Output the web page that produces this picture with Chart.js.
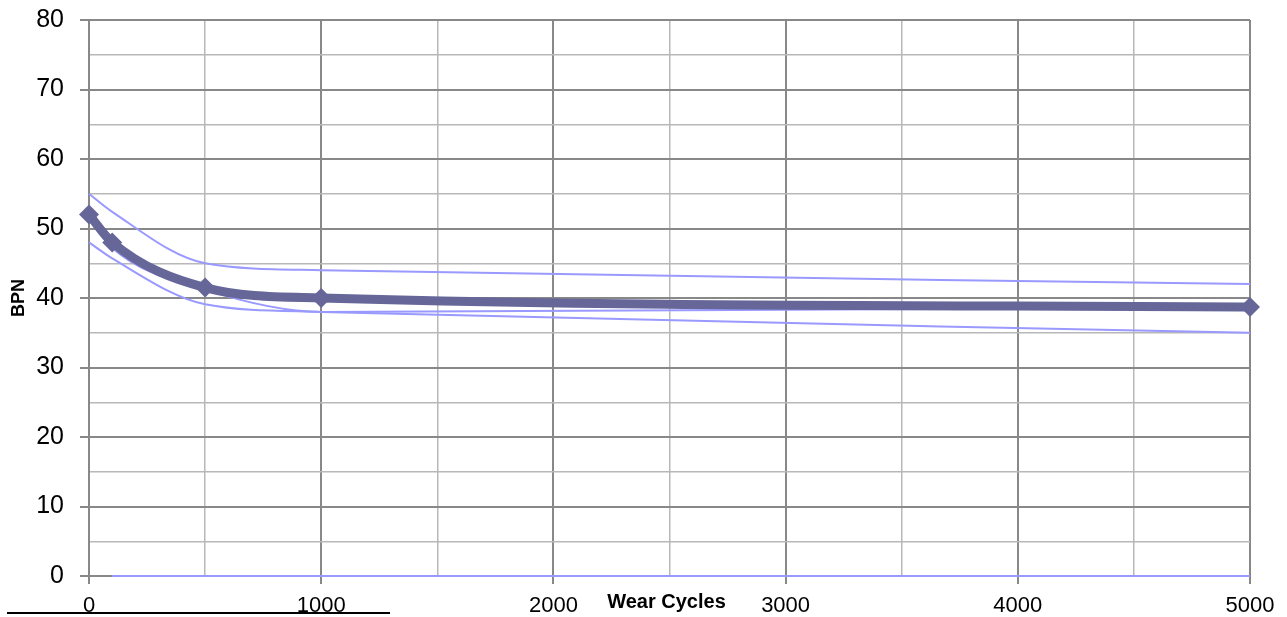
<!DOCTYPE html>
<html>
<head>
<meta charset="utf-8">
<script src="https://cdn.jsdelivr.net/npm/chart.js@4.4.1/dist/chart.umd.min.js"></script>
<style>
  html, body { margin: 0; padding: 0; background: #fff; }
  #wrap { width: 1287px; height: 617px; }
</style>
</head>
<body>
<div id="wrap"><canvas id="bpnChart" width="1287" height="617"></canvas></div>
<script>
// wear cycles where BPN was measured
const cycles = [0, 100, 500, 1000, 5000];
const bpnMean = [52, 48, 41.5, 40, 38.7];
const bpnUpper = [55, 52.4, 45, 44, 42];
const bpnLower = [48, 45.7, 39.1, 38, 35];
const bpnFit = [51.5, 47.2, 41.2, 38, 38.7];
const zeroCycles = [100, 500, 1000, 5000];
const zeroLine = [0, 0, 0, 0];

const xTicks = [0, 1000, 2000, 3000, 4000, 5000];
const yTicks = [0, 10, 20, 30, 40, 50, 60, 70, 80];

const darkLine = '#666699';
const lightLine = '#9999ff';

function toPoints(xs, ys){
    return xs.map((x, i) => ({x: x, y: ys[i]}));
}

function lightSet(xs, ys){
    return {
        data: toPoints(xs, ys),
        borderColor: lightLine,
        borderWidth: 2,
        pointRadius: 0,
        fill: false,
        clip: false,
        cubicInterpolationMode: 'monotone',
        order: 1
    };
}

// stray underline below the first labels
const underline = {
    id: 'underline',
    afterDraw(chart){
        const c = chart.ctx;
        c.save();
        c.strokeStyle = '#000';
        c.lineWidth = 2;
        c.beginPath();
        c.moveTo(7, 613);
        c.lineTo(390, 613);
        c.stroke();
        c.restore();
    }
};

const majorGrid = '#888888';
const minorGrid = '#b8b8b8';

let ctx = document.getElementById('bpnChart').getContext('2d');
let myChart = new Chart(ctx, {
    type: 'line',
    data: {
        datasets: [
            {
                data: toPoints(cycles, bpnMean),
                borderColor: darkLine,
                backgroundColor: darkLine,
                borderWidth: 9,
                pointStyle: 'rectRot',
                pointRadius: 10,
                pointBorderWidth: 0,
                fill: false,
                clip: false,
                cubicInterpolationMode: 'monotone',
                order: 0
            },
            lightSet(cycles, bpnUpper),
            lightSet(cycles, bpnLower),
            lightSet(cycles, bpnFit),
            lightSet(zeroCycles, zeroLine)
        ]
    },
    options: {
        responsive: false,
        animation: false,
        layout: { padding: { top: 20, right: 37, left: 8, bottom: 0 } },
        plugins: {
            legend: { display: false },
            tooltip: { enabled: false }
        },
        scales: {
            x: {
                type: 'linear',
                min: 0,
                max: 5000,
                ticks: {
                    stepSize: 500,
                    autoSkip: false,
                    maxRotation: 0,
                    padding: 9,
                    color: '#000',
                    font: { family: 'Liberation Sans', size: 22 },
                    callback: (v) => xTicks.includes(v) ? String(v) : ''
                },
                grid: {
                    color: (c) => c.tick && c.tick.value % 1000 === 0 ? majorGrid : minorGrid,
                    lineWidth: (c) => c.tick && c.tick.value % 1000 === 0 ? 2 : 1.5,
                    tickColor: (c) => c.tick && c.tick.value % 1000 === 0 ? majorGrid : 'rgba(0,0,0,0)',
                    tickLength: 8
                },
                border: { color: majorGrid, width: 2 },
                title: { display: false },
                afterFit: (s) => { s.height = 41; s.paddingLeft = 0; s.paddingRight = 0; }
            },
            y: {
                min: 0,
                max: 80,
                ticks: {
                    stepSize: 5,
                    autoSkip: false,
                    padding: 16,
                    color: '#000',
                    font: { family: 'Liberation Sans', size: 25 },
                    callback: (v) => yTicks.includes(v) ? String(v) : ''
                },
                grid: {
                    color: (c) => c.tick && c.tick.value % 10 === 0 ? majorGrid : minorGrid,
                    lineWidth: (c) => c.tick && c.tick.value % 10 === 0 ? 2 : 1.5,
                    tickColor: (c) => c.tick && c.tick.value % 10 === 0 ? majorGrid : 'rgba(0,0,0,0)',
                    tickLength: 9
                },
                border: { color: majorGrid, width: 2 },
                title: {
                    display: true,
                    text: 'BPN',
                    color: '#000',
                    font: { family: 'Liberation Sans', size: 18, weight: 'bold' },
                    padding: { top: 0, bottom: 0 }
                },
                afterFit: (s) => { s.width = 81; s.paddingTop = 0; s.paddingBottom = 0; }
            }
        }
    },
    plugins: [underline, {
        id: 'xTitle',
        afterDraw(chart){
            const c = chart.ctx;
            const a = chart.chartArea;
            c.save();
            c.fillStyle = '#000';
            c.font = 'bold 20px "Liberation Sans"';
            c.textAlign = 'center';
            c.textBaseline = 'middle';
            c.fillText('Wear Cycles', (a.left + a.right) / 2 - 3, 602);
            c.restore();
        }
    }]
});
</script>
</body>
</html>
